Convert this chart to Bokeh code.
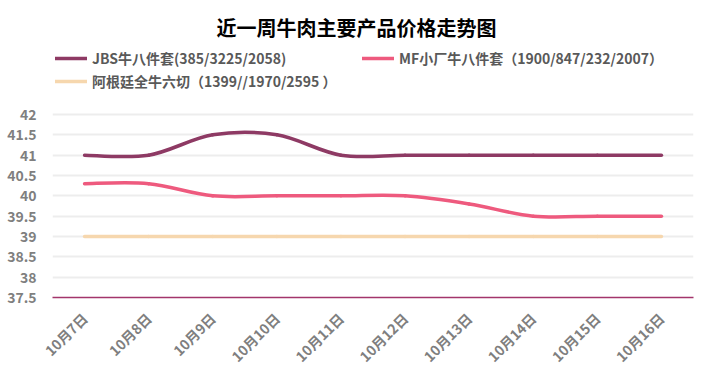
from math import pi
from bokeh.plotting import figure
from bokeh.models import (Label, Legend, LegendItem, FixedTicker, Range1d,
                          ColumnDataSource)
from bokeh.embed import file_html
from bokeh.resources import INLINE

# ---- data ----
dates = ["10月7日", "10月8日", "10月9日", "10月10日", "10月11日",
         "10月12日", "10月13日", "10月14日", "10月15日", "10月16日"]
jbs = [41, 41, 41.5, 41.5, 41, 41, 41, 41, 41, 41]
mf = [40.3, 40.3, 40, 40, 40, 40, 39.8, 39.5, 39.5, 39.5]
agt = [39, 39, 39, 39, 39, 39, 39, 39, 39, 39]
names = ["JBS牛八件套(385/3225/2058)",
         "MF小厂牛八件套（1900/847/232/2007）",
         "阿根廷全牛六切（1399//1970/2595 ）"]
colors = ["#8E3A64", "#EE5A7E", "#F6D7AE"]
y_ticks = [37.5, 38, 38.5, 39, 39.5, 40, 40.5, 41, 41.5, 42]
title_text = "近一周牛肉主要产品价格走势图"

# ---- layout (figure pixels) ----
W, H = 711, 378
FL, FR, FB = 52, 711 - 693, 378 - 297
frame_w = W - FL - FR
frame_h = H - FB
PX_PER_UNIT = 183 / 4.5
X0, X1 = -0.5, len(dates) - 0.5
Y0 = y_ticks[0]
Y1 = Y0 + frame_h / PX_PER_UNIT   # frame extends to top; 42 sits at y=114


def dx(px):  # figure px -> data x
    return X0 + (px - FL) / frame_w * (X1 - X0)


def dy(py):  # figure px (from top) -> data y
    return Y0 + (H - FB - py) / PX_PER_UNIT


p = figure(width=W, height=H, output_backend="svg", toolbar_location=None,
           title=None,
           x_range=Range1d(X0, X1), y_range=Range1d(Y0, Y1),
           min_border_left=FL, min_border_right=FR,
           min_border_top=0, min_border_bottom=FB)
p.outline_line_color = None
p.background_fill_color = "white"
p.border_fill_color = "white"
p.xgrid.grid_line_color = None
p.ygrid.grid_line_color = "#EDEDED"
p.ygrid.grid_line_width = 2
p.ygrid.ticker = FixedTicker(ticks=y_ticks)

p.yaxis.ticker = FixedTicker(ticks=y_ticks)
p.yaxis.axis_line_color = None
p.yaxis.major_tick_line_color = None
p.yaxis.minor_tick_line_color = None
p.yaxis.major_label_standoff = 10
p.yaxis.major_label_text_font = "Noto Sans CJK SC"
p.yaxis.major_label_text_font_size = "14px"
p.yaxis.major_label_text_font_style = "bold"
p.yaxis.major_label_text_color = "#7F7F7F"
p.yaxis.major_label_overrides = {t: ("%g" % t) for t in y_ticks}

p.xaxis.ticker = FixedTicker(ticks=list(range(len(dates))))
p.xaxis.major_label_overrides = {i: d for i, d in enumerate(dates)}
p.xaxis.axis_line_color = "#A3356B"
p.xaxis.axis_line_width = 1.5
p.xaxis.major_tick_line_color = None
p.xaxis.minor_tick_line_color = None
p.xaxis.major_label_orientation = pi / 4
p.xaxis.major_label_standoff = 12
p.xaxis.major_label_text_font = "Noto Sans CJK SC"
p.xaxis.major_label_text_font_size = "14px"
p.xaxis.major_label_text_font_style = "bold"
p.xaxis.major_label_text_color = "#7F7F7F"


def smooth_source(ys):
    n = len(ys)
    xs = list(range(n))
    d = dict(x0=[], y0=[], x1=[], y1=[], cx0=[], cy0=[], cx1=[], cy1=[])
    for i in range(n - 1):
        i0 = max(i - 1, 0)
        i3 = min(i + 2, n - 1)
        d["x0"].append(xs[i]); d["y0"].append(ys[i])
        d["x1"].append(xs[i + 1]); d["y1"].append(ys[i + 1])
        d["cx0"].append(xs[i] + (xs[i + 1] - xs[i0]) / 6)
        d["cy0"].append(ys[i] + (ys[i + 1] - ys[i0]) / 6)
        d["cx1"].append(xs[i + 1] - (xs[i3] - xs[i]) / 6)
        d["cy1"].append(ys[i + 1] - (ys[i3] - ys[i]) / 6)
    return ColumnDataSource(d)


renderers = []
for ys, c in zip([jbs, mf, agt], colors):
    r = p.bezier(x0="x0", y0="y0", x1="x1", y1="y1", cx0="cx0", cy0="cy0",
                 cx1="cx1", cy1="cy1", source=smooth_source(ys),
                 line_color=c, line_width=3.5, line_cap="round")
    renderers.append(r)

# legends: (offset from frame left, offset of legend bottom from frame bottom)
leg_pos = [(3, 229), (310, 229), (3, 206)]
for name, r, pos in zip(names, renderers, leg_pos):
    leg = Legend(items=[LegendItem(label=name, renderers=[r])], location=pos,
                 orientation="horizontal")
    leg.label_text_font = "Noto Sans CJK SC"
    leg.label_text_font_size = "14px"
    leg.label_text_font_style = "bold"
    leg.label_text_color = "#595959"
    leg.glyph_width = 32
    leg.glyph_height = 16
    leg.label_height = 16
    leg.label_standoff = 5
    leg.padding = 0
    leg.margin = 0
    leg.spacing = 0
    leg.background_fill_alpha = 0
    leg.border_line_alpha = 0
    p.add_layout(leg)

p.add_layout(Label(x=dx(356), y=dy(27), text=title_text,
                   text_align="center", text_baseline="middle",
                   text_font="Noto Sans CJK SC", text_font_size="20px",
                   text_font_style="bold", text_color="#000000"))

open("out.html", "w").write(file_html(p, INLINE))
